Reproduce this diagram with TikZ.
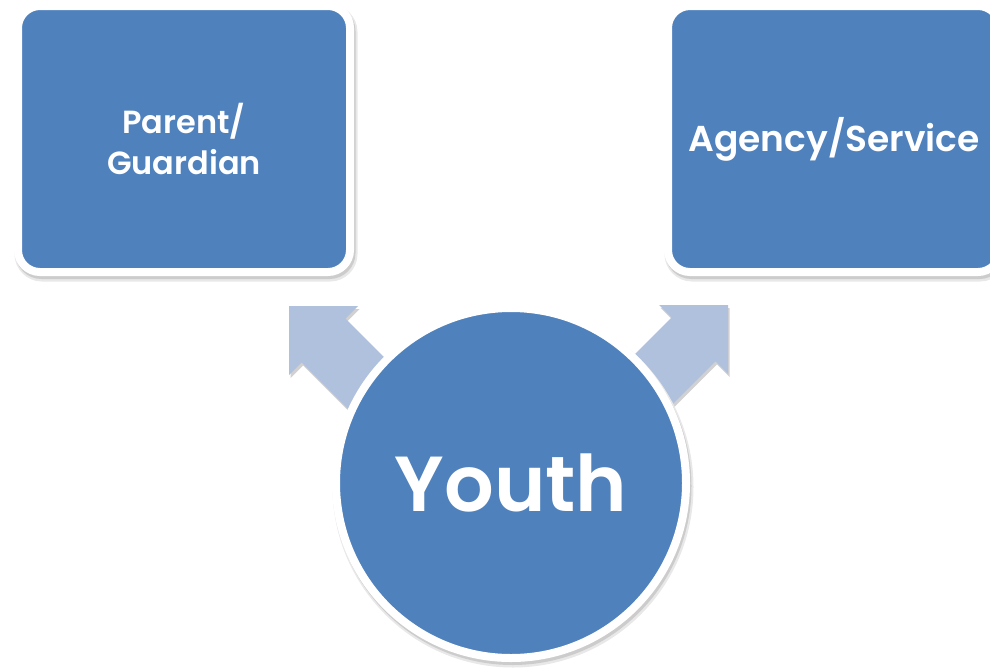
\documentclass[tikz,border=0pt]{standalone}
\usepackage{fontspec}
\setmainfont{Poppins}[BoldFont={Poppins SemiBold}]
\usepackage{tikz}
\usetikzlibrary{positioning,calc}

\definecolor{boxblue}{RGB}{79,129,189}
\definecolor{arrowblue}{RGB}{176,193,222}

\begin{document}
\begin{tikzpicture}[x=1pt, y=-1pt, text=white]
\tikzstyle{shade}=[preaction={fill=black!9, draw=black!9, line width=11, transform canvas={xshift=2pt,yshift=-4pt}},
                   preaction={fill=black!20, draw=black!20, line width=8, transform canvas={xshift=1.5pt,yshift=-3pt}}]
\tikzstyle{block}=[shade, rectangle, rounded corners=22, fill=boxblue, draw=white, line width=8,
                   minimum width=332, minimum height=266, align=center]
\tikzstyle{hub}=[shade, circle, fill=boxblue, draw=white, line width=8, minimum size=350, inner sep=0]
\tikzstyle{pointer}=[fill=arrowblue, preaction={fill=black!18, transform canvas={xshift=1.5pt,yshift=-3pt}}]
\useasboundingbox (0,0) rectangle (990,667);

\coordinate (PT) at (289,306);
\coordinate (AT) at (728,305);

\fill[pointer] (PT) -- ++(69,0) -- ++(-12.6,12.6) -- ++(70,70) -- ++(-43.8,43.8)
   -- ++(-70,-70) -- ++(-12.6,12.6) -- cycle;
\fill[pointer] (AT) -- ++(0,69) -- ++(-12.6,-12.6) -- ++(-70,70) -- ++(-43.8,-43.8)
   -- ++(70,-70) -- ++(-12.6,-12.6) -- cycle;

\node[block, font=\fontsize{32}{41}\selectfont\bfseries]    (P) at (184,139)   {Parent/\\Guardian};
\node[block, font=\fontsize{36}{44}\selectfont\bfseries]    (A) at (834,139)   {Agency/Service};
\node[hub, font=\fontsize{78}{90}\selectfont\bfseries]      (Y) at (511,483)   {Youth};
\end{tikzpicture}
\end{document}
